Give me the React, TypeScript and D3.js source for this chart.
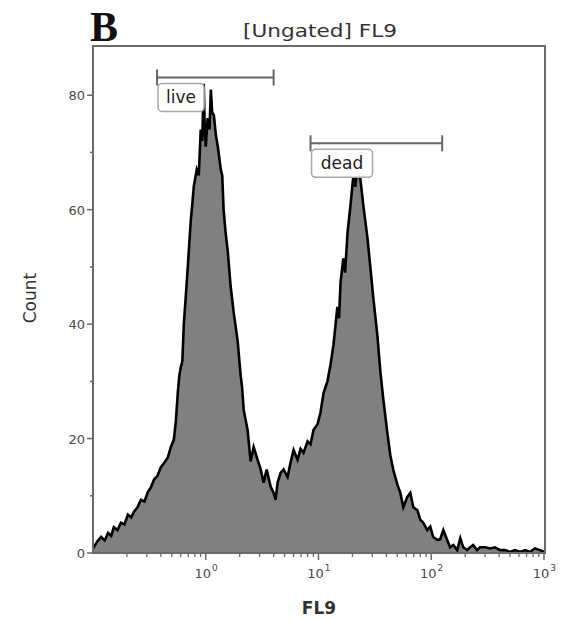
import React from 'react';
import * as d3 from 'd3';

// FL9 channel values (bin positions) and counts
const fl9Values = [
  0.1, 0.109, 0.118, 0.127, 0.136, 0.145, 0.153, 0.165, 0.177, 0.19, 0.204, 0.218, 0.231, 0.248,
  0.266, 0.286, 0.307, 0.327, 0.347, 0.373, 0.4, 0.43, 0.461, 0.49, 0.521, 0.543, 0.565, 0.583,
  0.601, 0.62, 0.639, 0.666, 0.693, 0.714, 0.736, 0.76, 0.783, 0.832, 0.867, 0.903, 0.93, 0.96,
  0.98, 1.0, 1.04, 1.08, 1.11, 1.14, 1.18, 1.23, 1.28, 1.36, 1.4, 1.44, 1.5, 1.57, 1.66, 1.77,
  1.92, 2.04, 2.1, 2.17, 2.35, 2.5, 2.66, 2.88, 3.07, 3.26, 3.47, 3.76, 4.0, 4.16, 4.34, 4.61,
  4.9, 5.32, 5.65, 6.01, 6.52, 6.93, 7.36, 8.0, 8.5, 9.03, 9.8, 10.4, 11.1, 12.0, 12.8, 13.6,
  14.7, 15.2, 15.7, 16.6, 17.2, 18.1, 19.2, 20.4, 21.2, 22.1, 23.5, 25.0, 27.2, 28.8, 30.7, 33.3,
  35.4, 37.6, 40.8, 43.4, 46.1, 50.0, 53.2, 56.5, 61.3, 65.2, 69.3, 75.2, 80, 85, 92.2, 98, 104,
  113, 120, 128, 139, 147, 157, 170, 181, 192, 208, 221, 235, 255, 271, 300, 333, 368, 408, 452,
  500, 553, 613, 679, 752, 832, 922, 1000,
];
const counts = [
  0.8, 2.0, 2.8, 2.2, 3.5, 3.0, 4.5, 4.0, 5.3, 5.0, 6.7, 6.2, 7.2, 8.0,
  9.3, 9.0, 10.7, 11.5, 12.8, 13.5, 15.0, 15.8, 16.7, 18.5, 19.8, 23, 28, 31,
  32.5, 33.5, 40, 45, 50, 54, 58, 61, 64, 67, 66, 74, 72, 82,
  74, 71, 76, 74, 81, 77, 76.5, 73, 71, 67, 66, 60, 56, 52.6, 46.7, 42,
  37, 31, 29, 25, 21.5, 16, 18.5, 16.3, 14.6, 12.3, 14.6, 11.6, 10.5, 9.3, 12.3, 14,
  14.6, 13.3, 15.8, 18, 16.3, 18.2, 17.5, 19.5, 19, 21.5, 22.5, 24.5, 28, 30, 33, 36.5,
  43, 41, 47.4, 51.5, 49, 56, 60.7, 66, 64, 67, 65.4, 60.7, 55, 50, 44.4, 38,
  31.6, 26.8, 21, 17, 14.5, 12, 10.5, 8, 9.8, 10.5, 8, 7.5, 5.8, 5.3, 4, 4.6, 2.8,
  2.3, 2.4, 4, 2.2, 1, 1.4, 0.5, 2.6, 1, 0.5, 1, 1.4, 0.5, 1, 1, 0.8, 1, 0.5,
  0.5, 0.2, 0.5, 0.2, 0.5, 0.2, 0.8, 0.5, 0.2,
];

const yTicks = [0, 20, 40, 60, 80];
const yMinorTicks = [10, 30, 50, 70];
const xMajorTicks = [1, 10, 100, 1000];
const xTickExponents = ['0', '1', '2', '3'];

const gateNames = ['live', 'dead'];
const gateStarts = [0.37, 8.5];
const gateEnds = [4.0, 125];
const gateLevels = [83.1, 71.6];

const W = 561;
const H = 623;
const left = 93;
const right = 544;
const top = 46;
const bottom = 553;

export default function App() {
  const x = d3.scaleLog().domain([0.1, 1000]).range([left, right]);
  const y = d3.scaleLinear().domain([0, 88.6]).range([bottom, top]);

  const pts = fl9Values.map((v, i) => [v, counts[i]] as [number, number]);
  const area = d3
    .area<[number, number]>()
    .x((d) => x(d[0]))
    .y0(y(0))
    .y1((d) => y(d[1]));
  const line = d3
    .line<[number, number]>()
    .x((d) => x(d[0]))
    .y((d) => y(d[1]));

  const minorX = x.ticks().filter((t) => !xMajorTicks.includes(t) && t > 0.1);
  const axisColor = '#6a6a6a';
  const textColor = '#4a4a4a';
  const font = 'DejaVu Sans, Verdana, sans-serif';

  const boxWidths = [46, 61];

  return (
    <svg
      width={W}
      height={H}
      style={{ position: 'absolute', left: 0, top: 0, background: '#fff' }}
      fontFamily={font}
    >
      <rect x={0} y={0} width={W} height={H} fill="#fff" />
      {/* Panel letter */}
      <text x={90} y={41} fontFamily="Liberation Serif, Times New Roman, serif" fontWeight="bold" fontSize={42} fill="#111">
        B
      </text>
      {/* Title */}
      <text x={320} y={37} textAnchor="middle" fontSize={18} fill="#333" textLength={154} lengthAdjust="spacingAndGlyphs">
        [Ungated] FL9
      </text>

      {/* Histogram */}
      <path d={area(pts) || ''} fill="#808080" />
      <path d={line(pts) || ''} fill="none" stroke="#000" strokeWidth={2.6} strokeLinejoin="miter" />

      {/* Frame */}
      <path
        d={`M${left},${bottom} L${left},${top} L${right + 1},${top} L${right + 1},${bottom} Z`}
        fill="none"
        stroke={axisColor}
        strokeWidth={2}
      />

      {/* Y axis ticks */}
      {yTicks.map((t) => (
        <g key={'y' + t}>
          <line x1={left - 6} x2={left} y1={y(t)} y2={y(t)} stroke={axisColor} strokeWidth={1.5} />
          <text x={left - 8} y={y(t) + 5} textAnchor="end" fontSize={13} fill={textColor}>
            {t}
          </text>
        </g>
      ))}
      {yMinorTicks.map((t) => (
        <line key={'ym' + t} x1={left - 3} x2={left} y1={y(t)} y2={y(t)} stroke={axisColor} strokeWidth={1.5} />
      ))}

      {/* X axis ticks */}
      {minorX.map((t, i) => (
        <line key={'xm' + i} x1={x(t)} x2={x(t)} y1={bottom} y2={bottom + 4} stroke={axisColor} strokeWidth={1.3} />
      ))}
      {xMajorTicks.map((t, i) => (
        <g key={'x' + t}>
          <line x1={x(t)} x2={x(t)} y1={bottom} y2={bottom + 7} stroke={axisColor} strokeWidth={1.5} />
          <text x={x(t) - 3} y={bottom + 25} textAnchor="middle" fontSize={13} fill={textColor}>
            10
          </text>
          <text x={x(t) + 9} y={bottom + 18} textAnchor="middle" fontSize={9} fill={textColor}>
            {xTickExponents[i]}
          </text>
        </g>
      ))}

      {/* Axis titles */}
      <text x={319} y={614} textAnchor="middle" fontSize={17} fontWeight="bold" fill="#333">
        FL9
      </text>
      <text
        transform={`translate(36,298) rotate(-90)`}
        textAnchor="middle"
        fontSize={17}
        fill="#333"
      >
        Count
      </text>

      {/* Gates */}
      {gateNames.map((g, i) => {
        const x1 = x(gateStarts[i]);
        const x2 = x(gateEnds[i]);
        const gy = y(gateLevels[i]);
        return (
          <g key={g}>
            <line x1={x1} x2={x2} y1={gy} y2={gy} stroke="#666" strokeWidth={2} />
            <line x1={x1} x2={x1} y1={gy - 8} y2={gy + 8} stroke="#666" strokeWidth={2} />
            <line x1={x2} x2={x2} y1={gy - 8} y2={gy + 8} stroke="#666" strokeWidth={2} />
            <rect
              x={x1 + 1}
              y={gy + 6}
              width={boxWidths[i]}
              height={28}
              rx={4}
              fill="#fff"
              stroke="#a8a8a8"
              strokeWidth={1.5}
            />
            <text x={x1 + 1 + boxWidths[i] / 2} y={gy + 26} textAnchor="middle" fontSize={17} fill="#222">
              {g}
            </text>
          </g>
        );
      })}
    </svg>
  );
}
